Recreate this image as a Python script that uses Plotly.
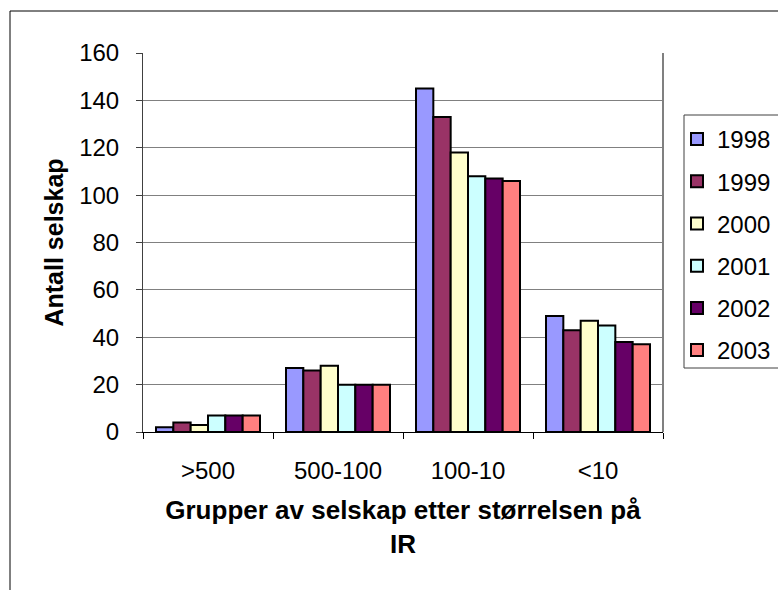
import plotly.graph_objects as go

categories = [">500", "500-100", "100-10", "<10"]
years = ["1998", "1999", "2000", "2001", "2002", "2003"]
values = {
    "1998": [2, 27, 145, 49],
    "1999": [4, 26, 133, 43],
    "2000": [3, 28, 118, 47],
    "2001": [7, 20, 108, 45],
    "2002": [7, 20, 107, 38],
    "2003": [7, 20, 106, 37],
}
colors = ["#9999FF", "#993366", "#FFFFCC", "#CCFFFF", "#660066", "#FF8080"]
y_ticks = [0, 20, 40, 60, 80, 100, 120, 140, 160]

W, H = 778, 590
L, R, T, B = 143, 663, 53, 432  # plot area pixels

fig = go.Figure()
for yr, col in zip(years, colors):
    fig.add_trace(go.Bar(
        x=categories, y=values[yr], name=yr,
        marker=dict(color=col, line=dict(color="black", width=2)),
        legendgroup=yr,
    ))

def px_x(p):
    return (p - L) / (R - L)

def px_y(p):
    return (B - p) / (B - T)

font = "Arial, Liberation Sans, sans-serif"

fig.update_layout(
    width=W, height=H,
    margin=dict(l=L, r=W - R, t=T, b=H - B, pad=0, autoexpand=False),
    paper_bgcolor="white", plot_bgcolor="white",
    barmode="group", bargap=0.2, bargroupgap=0,
    font=dict(family=font, size=24, color="black"),
    showlegend=True,
    legend=dict(
        x=px_x(677), y=px_y(117), xanchor="left", yanchor="top",
        borderwidth=0, bgcolor="rgba(0,0,0,0)",
        font=dict(size=24), tracegroupgap=8, itemwidth=30,
    ),
    xaxis=dict(
        type="category", showline=True, linecolor="black", linewidth=1,
        ticks="outside", ticklen=6, tickcolor="black", tickson="boundaries",
        ticklabelstandoff=17, showgrid=False, automargin=False,
        tickfont=dict(size=24),
        title=dict(text="<b>Grupper av selskap etter størrelsen på<br>IR</b>",
                   font=dict(size=26), standoff=18),
    ),
    yaxis=dict(
        range=[0, 160], tickvals=y_ticks, showline=True, linecolor="#404040",
        linewidth=1, ticks="outside", ticklen=6, tickcolor="#404040",
        showgrid=True, gridcolor="#808080", gridwidth=1, automargin=False,
        ticklabelstandoff=12, tickfont=dict(size=24), zeroline=False,
        title=dict(text="<b>Antall selskap</b>", font=dict(size=25), standoff=8),
    ),
    shapes=[
        dict(type="rect", xref="paper", yref="paper",
             x0=px_x(10), x1=px_x(800), y0=px_y(620), y1=px_y(11),
             line=dict(color="black", width=1), layer="below"),
        dict(type="line", xref="paper", yref="paper",
             x0=1, x1=1, y0=0, y1=1,
             line=dict(color="#808080", width=2), layer="below"),
        dict(type="rect", xref="paper", yref="paper",
             x0=px_x(684), x1=px_x(800), y0=px_y(368), y1=px_y(115),
             line=dict(color="#404040", width=1), fillcolor="white",
             layer="below"),
    ],
)

fig.write_html("out.html", config={"displayModeBar": False},
               post_script="document.body.style.margin='0';")
